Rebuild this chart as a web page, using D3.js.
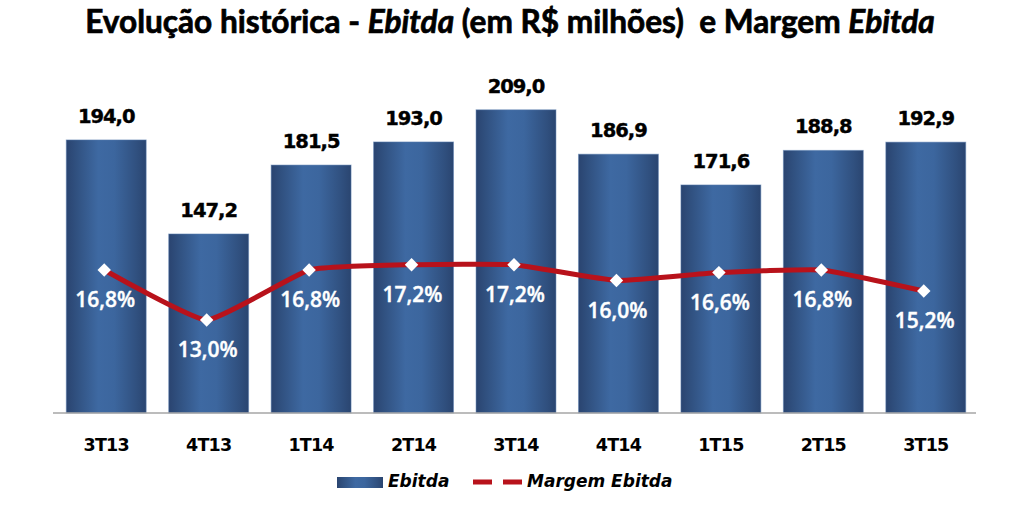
<!DOCTYPE html>
<html><head><meta charset="utf-8">
<script src="https://cdn.jsdelivr.net/npm/d3@7"></script>
<style>html,body{margin:0;padding:0;background:#fff;}svg{display:block;}</style>
</head><body>
<svg id="chart" width="1024" height="506"></svg>
<script>
const categories = ["3T13","4T13","1T14","2T14","3T14","4T14","1T15","2T15","3T15"];
const ebitda = [194.0,147.2,181.5,193.0,209.0,186.9,171.6,188.8,192.9];
const margem = [16.8,13.0,16.8,17.2,17.2,16.0,16.6,16.8,15.2];
const titleParts = [
  {t:"Evolução histórica - ", i:false},
  {t:"Ebitda", i:true},
  {t:" (em R$ milhões)  e Margem ", i:false},
  {t:"Ebitda", i:true}
];
const legendLabels = ["Ebitda","Margem Ebitda"];

const fmt = v => v.toFixed(1).replace(".", ",");
const svg = d3.select("#chart");
const defs = svg.append("defs");
const grad = defs.append("linearGradient").attr("id","barGrad").attr("x1","0").attr("x2","1").attr("y1","0").attr("y2","0");
[[0,"#2a4470"],[0.12,"#30507f"],[0.4,"#3e69a2"],[0.6,"#3c669e"],[0.88,"#30507f"],[1,"#2a4570"]]
  .forEach(([o,c])=>grad.append("stop").attr("offset",o).attr("stop-color",c));

const x = d3.scaleBand().domain(categories).range([55,977]).paddingInner(0.22).paddingOuter(0.11);
const y = d3.scaleLinear().domain([58.1,220]).range([413,87.7]);
const y2 = d3.scaleLinear().domain([13.0,17.2]).range([320,264.7]);
const cx = c => x(c) + x.bandwidth()/2;

// title
const title = svg.append("text").attr("x",510).attr("y",33).attr("text-anchor","middle")
  .attr("font-family","Lato, 'Open Sans', sans-serif").attr("font-weight","bold").attr("font-size",26)
  .attr("fill","#000").attr("stroke","#000").attr("stroke-width",0.7);
titleParts.forEach(p=>title.append("tspan").text(p.t).attr("font-style",p.i?"italic":"normal"));
title.style("white-space","pre");
const tw = title.node().getComputedTextLength();
title.attr("font-size", 26*850/tw);

// bars
svg.append("g").selectAll("rect").data(categories).join("rect")
  .attr("x",d=>x(d)).attr("width",x.bandwidth())
  .attr("y",(d,i)=>y(ebitda[i])).attr("height",(d,i)=>413-y(ebitda[i]))
  .attr("fill","url(#barGrad)").attr("stroke","#5b7fb2").attr("stroke-opacity",0.5).attr("stroke-width",1);

// axis
const ax = svg.append("g").attr("transform","translate(0,413)")
  .call(d3.axisBottom(x).tickSize(0).tickPadding(0).tickSizeOuter(0));
ax.select(".domain").attr("stroke","#a6a6a6").attr("stroke-width",1.5)
  .attr("d","M53,0H976");
ax.selectAll(".tick text").attr("dy",null).attr("y",38)
  .attr("font-family","'DejaVu Sans', sans-serif").attr("font-weight","bold").attr("font-size",17.5)
  .attr("letter-spacing",-0.8).attr("fill","#000");

// bar value labels
svg.append("g").selectAll("text").data(categories).join("text")
  .attr("x",d=>cx(d)).attr("y",(d,i)=>y(ebitda[i])-17).attr("text-anchor","middle")
  .attr("font-family","'DejaVu Sans', sans-serif").attr("font-weight","bold").attr("font-size",19.5)
  .attr("letter-spacing",-1).attr("fill","#000").attr("stroke","#000").attr("stroke-width",0.4)
  .text((d,i)=>fmt(ebitda[i]));

// line
const line = d3.line().x(d=>cx(d.c)-2).y(d=>y2(d.v)).curve(d3.curveCardinal.tension(0.6));
const pts = categories.map((c,i)=>({c, v:margem[i]}));
svg.append("path").datum(pts).attr("d",line).attr("fill","none")
  .attr("stroke","#b8121b").attr("stroke-width",5).attr("stroke-linejoin","round");
svg.append("g").selectAll("path").data(pts).join("path")
  .attr("d",d3.symbol(d3.symbolSquare,90)())
  .attr("transform",d=>`translate(${cx(d.c)-2},${y2(d.v)}) rotate(45)`)
  .attr("fill","#fff");

// percent labels
svg.append("g").selectAll("text").data(pts).join("text")
  .attr("x",d=>cx(d.c)-1).attr("y",d=>y2(d.v)+37).attr("text-anchor","middle")
  .attr("font-family","'Open Sans', sans-serif").attr("font-weight","600").attr("font-size",21)
  .attr("fill","#fff").attr("stroke","#fff").attr("stroke-width",0.4)
  .text(d=>fmt(d.v)+"%");

// legend
const lg = svg.append("g");
lg.append("rect").attr("x",337).attr("y",477).attr("width",46).attr("height",11).attr("fill","url(#barGrad)");
lg.append("text").attr("x",388).attr("y",487).attr("font-family","'DejaVu Sans', sans-serif")
  .attr("font-style","italic").attr("font-weight","bold").attr("font-size",17).text(legendLabels[0]);
lg.append("path").attr("d","M473,482H523").attr("stroke","#b8121b").attr("stroke-width",5).attr("stroke-dasharray","19,11");
lg.append("text").attr("x",527).attr("y",487).attr("font-family","'DejaVu Sans', sans-serif")
  .attr("font-style","italic").attr("font-weight","bold").attr("font-size",17).text(legendLabels[1]);
</script>
</body></html>
